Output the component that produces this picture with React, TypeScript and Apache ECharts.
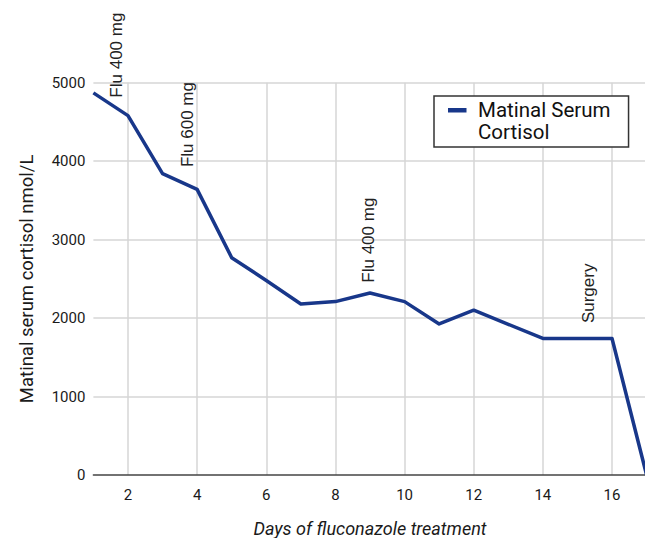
import React, { useEffect, useRef } from "react";
import * as echarts from "echarts";

// ---- data ----
const days: number[] = [1, 2, 3, 4, 5, 6, 7, 8, 9, 10, 11, 12, 13, 14, 15, 16, 17];
const cortisol: number[] = [4870, 4580, 3840, 3640, 2770, 2480, 2180, 2210, 2320, 2210, 1925, 2100, 1920, 1740, 1740, 1740, 0];
const seriesName = "Matinal Serum\nCortisol";
const annotationDays: number[] = [2, 4, 9, 16];
const annotationTexts: string[] = ["Flu 400 mg", "Flu 600 mg", "Flu 400 mg", "Surgery"];
const xAxisTitle = "Days of fluconazole treatment";
const yAxisTitle = "Matinal serum cortisol nmol/L";

// ---- layout (pixel offsets of annotation texts from their data point) ----
const annotationOffsets: [number, number][] = [
  [-11.4, -18],
  [-9.7, -22.3],
  [-1.7, -10.3],
  [-23.7, -15.4],
];

const LINE_COLOR = "#18378a";
const GRID_COLOR = "#d6d6d6";

export default function App() {
  const ref = useRef<HTMLDivElement>(null);

  useEffect(() => {
    document.body.style.margin = "0";
    if (!ref.current) return;
    const chart = echarts.init(ref.current, undefined, { renderer: "svg" });
    const option: any = {
      animation: false,
      backgroundColor: "#ffffff",
      grid: {
        left: 93.4,
        right: -1.6,
        top: 82.7,
        bottom: 63,
        containLabel: false,
        outerBoundsMode: "none",
      },
      legend: {
        show: true,
        left: 434,
        top: 96,
        orient: "vertical",
        padding: [3, 18, 4, 14],
        borderColor: "#333333",
        borderWidth: 1.5,
        backgroundColor: "#ffffff",
        itemWidth: 25,
        itemHeight: 26,
        icon: "path://M0,0L18.5,0L18.5,4.5L0,4.5Z M24.9,25.9L25,25.9L25,26L24.9,26Z",
        itemStyle: { color: LINE_COLOR, borderWidth: 0 },
        textStyle: {
          fontFamily: "Roboto",
          fontSize: 20.5,
          lineHeight: 22,
          color: "#111111",
        },
        data: [seriesName],
      },
      xAxis: {
        type: "value",
        min: 1,
        max: 17,
        splitNumber: 8,
        name: xAxisTitle,
        nameLocation: "middle",
        nameGap: 44,
        nameTextStyle: {
          fontFamily: "Roboto",
          fontSize: 18,
          fontStyle: "italic",
          color: "#1a1a1a",
        },
        axisLine: { show: true, onZero: true, lineStyle: { color: "#444444", width: 1.5 } },
        axisTick: { show: false },
        axisLabel: {
          show: true,
          margin: 12,
          fontFamily: "Roboto",
          fontSize: 15,
          color: "#1a1a1a",
          showMinLabel: false,
          showMaxLabel: false,
        },
        splitLine: {
          show: true,
          showMinLine: false,
          showMaxLine: false,
          lineStyle: { color: GRID_COLOR, width: 1.5 },
        },
      },
      yAxis: {
        type: "value",
        min: 0,
        max: 5000,
        interval: 1000,
        name: yAxisTitle,
        nameLocation: "middle",
        nameGap: 57,
        nameTextStyle: {
          fontFamily: "Roboto",
          fontSize: 18.5,
          color: "#1a1a1a",
        },
        axisLine: { show: false },
        axisTick: { show: false },
        axisLabel: {
          margin: 8,
          fontFamily: "Roboto",
          fontSize: 15,
          color: "#1a1a1a",
          formatter: (v: number) => String(v),
        },
        splitLine: {
          show: true,
          showMinLine: false,
          lineStyle: { color: GRID_COLOR, width: 1.5 },
        },
      },
      series: [
        {
          name: seriesName,
          type: "line",
          data: days.map((d, i) => [d, cortisol[i]]),
          showSymbol: false,
          symbol: "none",
          lineStyle: { color: LINE_COLOR, width: 3.5, join: "round" },
          itemStyle: { color: LINE_COLOR },
          clip: false,
          z: 3,
        },
      ],
    };
    chart.setOption(option);

    const graphics = annotationDays.map((d, i) => {
      const idx = days.indexOf(d);
      const p = chart.convertToPixel({ seriesIndex: 0 }, [d, cortisol[idx]]) as number[];
      const off = annotationOffsets[i];
      return {
        type: "text",
        x: p[0] + off[0],
        y: p[1] + off[1],
        rotation: Math.PI / 2,
        z: 10,
        style: {
          text: annotationTexts[i],
          fontFamily: "Liberation Sans, Arial, sans-serif",
          fontSize: 17,
          fill: "#222222",
          align: "left",
          verticalAlign: "middle",
        },
      };
    });
    chart.setOption({ graphic: graphics });

    return () => {
      chart.dispose();
    };
  }, []);

  return (
    <div
      ref={ref}
      style={{ position: "absolute", left: 0, top: 0, width: 645, height: 538 }}
    />
  );
}
